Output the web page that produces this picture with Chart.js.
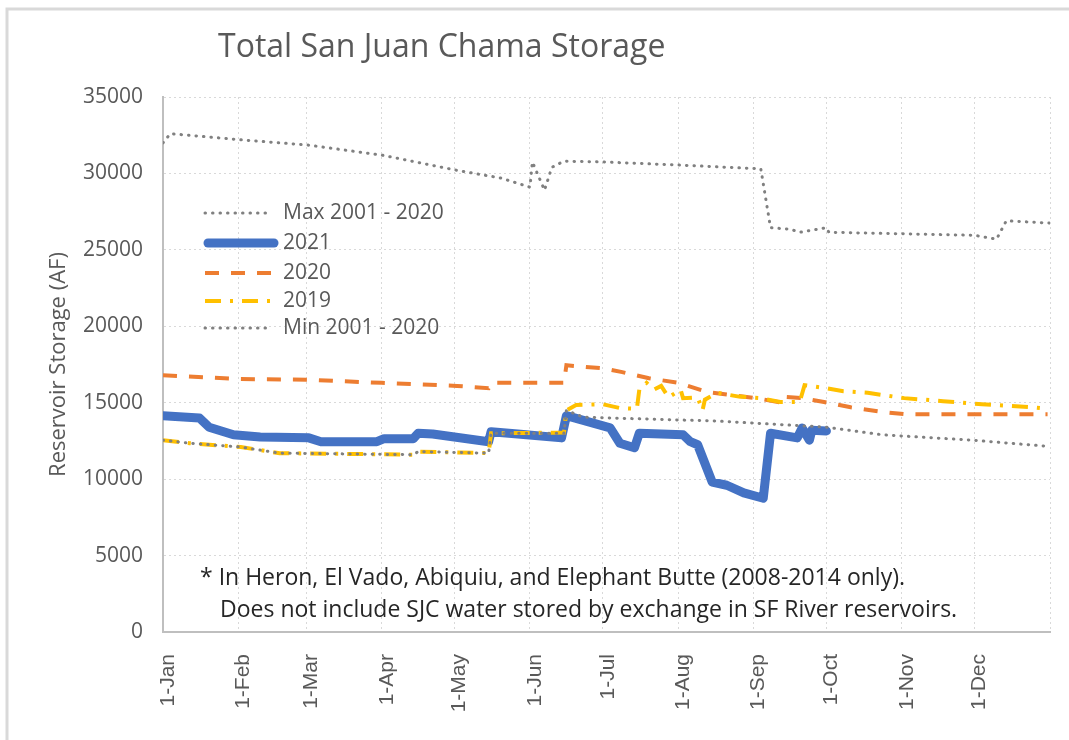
<!DOCTYPE html>
<html>
<head>
<meta charset="utf-8">
<script src="https://cdn.jsdelivr.net/npm/chart.js@4.4.0/dist/chart.umd.min.js"></script>
<style>
  html, body { margin: 0; padding: 0; background: #fff; }
  #wrap { width: 1069px; height: 740px; }
</style>
</head>
<body>
<div id="wrap"><canvas id="chart" width="1069" height="740"></canvas></div>
<script>
// x axis: day of year (0 = 1-Jan)
const monthDays = [0, 31, 59, 90, 120, 151, 181, 212, 243, 273, 304, 334, 365];
const monthLabels = ['1-Jan', '1-Feb', '1-Mar', '1-Apr', '1-May', '1-Jun', '1-Jul', '1-Aug', '1-Sep', '1-Oct', '1-Nov', '1-Dec', ''];
const yTicks = [0, 5000, 10000, 15000, 20000, 25000, 30000, 35000];

// Max 2001 - 2020
const maxDays = [0, 3, 32, 60, 90, 121, 139, 151, 152, 157, 160, 165, 181, 212, 246, 250, 258, 262, 273, 274, 304, 334, 343, 347, 365];
const maxVals = [32000, 32600, 32200, 31850, 31200, 30200, 29700, 29100, 30750, 28900, 30400, 30800, 30750, 30550, 30300, 26450, 26350, 26150, 26450, 26150, 26050, 25950, 25700, 26900, 26750];

// 2021
const y2021Days = [0, 15, 19, 29, 40, 60, 65, 88, 91, 103, 105, 111, 134, 135, 146, 164, 166, 184, 188, 194, 196, 214, 217, 220, 226, 232, 239, 247, 250, 261, 263, 266, 267, 273];
const y2021Vals = [14150, 14000, 13400, 12900, 12750, 12700, 12450, 12450, 12650, 12650, 13000, 12950, 12450, 13100, 12950, 12700, 14150, 13350, 12350, 12050, 13000, 12900, 12450, 12250, 9800, 9600, 9100, 8750, 13000, 12700, 13350, 12550, 13200, 13150];

// 2020
const y2020Days = [0, 32, 60, 90, 121, 134, 135, 165, 166, 181, 189, 200, 212, 224, 244, 253, 254, 263, 272, 283, 296, 305, 364];
const y2020Vals = [16800, 16550, 16500, 16300, 16100, 15950, 16300, 16300, 17450, 17250, 17000, 16600, 16300, 15700, 15300, 15050, 15400, 15300, 15050, 14700, 14400, 14250, 14250];

// 2019
const y2019Days = [0, 11, 32, 48, 103, 105, 134, 135, 165, 166, 170, 181, 188, 195, 196, 199, 202, 205, 208, 213, 214, 220, 222, 223, 228, 237, 246, 254, 262, 264, 273, 280, 290, 305, 321, 337, 358, 364];
const y2019Vals = [12550, 12350, 12100, 11700, 11600, 11800, 11700, 13000, 13050, 14500, 14850, 14900, 14650, 14600, 15850, 16300, 15850, 16100, 15350, 15850, 15300, 15350, 14500, 15200, 15650, 15400, 15300, 15050, 15050, 16150, 15950, 15750, 15650, 15300, 15100, 14900, 14700, 14600];

// Min 2001 - 2020
const minDays = [0, 11, 32, 48, 103, 105, 134, 135, 165, 166, 173, 228, 273, 296, 333, 364];
const minVals = [12550, 12350, 12100, 11700, 11600, 11800, 11700, 13000, 13000, 14500, 14050, 13800, 13400, 12900, 12550, 12150];

const zip = (xs, ys) => xs.map((x, i) => ({ x: x, y: ys[i] }));

const titleText = 'Total San Juan Chama Storage';
const noteLines = [
  '* In Heron, El Vado, Abiquiu, and Elephant Butte (2008-2014 only).',
  'Does not include SJC water stored by exchange in SF River reservoirs.'
];

const datasets = [
  { label: 'Max 2001 - 2020', data: zip(maxDays, maxVals), borderColor: '#808080', borderWidth: 3,
    borderDash: [0.5, 7], borderCapStyle: 'round', order: 1 },
  { label: '2021', data: zip(y2021Days, y2021Vals), borderColor: '#4472c4', borderWidth: 9,
    borderCapStyle: 'round', borderJoinStyle: 'round', order: 5 },
  { label: '2020', data: zip(y2020Days, y2020Vals), borderColor: '#ed7d31', borderWidth: 4,
    borderDash: [14, 12], order: 4 },
  { label: '2019', data: zip(y2019Days, y2019Vals), borderColor: '#ffc000', borderWidth: 4,
    borderDash: [16, 9, 3, 9], order: 3 },
  { label: 'Min 2001 - 2020', data: zip(minDays, minVals), borderColor: '#808080', borderWidth: 3,
    borderDash: [0.5, 7], borderCapStyle: 'round', order: 2 }
];

// title, legend inside the plot, footnote and outer frame
const overlay = {
  id: 'overlay',
  afterDraw(chart) {
    const ctx = chart.ctx;
    ctx.save();
    ctx.strokeStyle = '#d9d9d9';
    ctx.lineWidth = 3;
    ctx.strokeRect(7, 9, 1200, 900);

    ctx.fillStyle = '#595959';
    ctx.textAlign = 'left';
    ctx.textBaseline = 'middle';
    ctx.font = '32px "Open Sans"';
    ctx.fillText(titleText, 218, 48);

    const rows = [213, 243, 273, 301, 328];
    ctx.font = '21px "Open Sans"';
    chart.data.datasets.forEach((ds, i) => {
      const y = rows[i];
      ctx.save();
      ctx.strokeStyle = ds.borderColor;
      ctx.lineWidth = ds.borderWidth;
      ctx.setLineDash(ds.borderDash || []);
      ctx.lineCap = ds.borderCapStyle || 'butt';
      ctx.beginPath();
      if (ds.borderWidth > 5) { ctx.moveTo(208, y); ctx.lineTo(274, y); }
      else { ctx.moveTo(205, y); ctx.lineTo(272, y); }
      ctx.stroke();
      ctx.restore();
      ctx.fillText(ds.label, 283, y);
    });

    ctx.fillStyle = '#262626';
    ctx.font = '23px "Open Sans"';
    ctx.fillText(noteLines[0], 200, 578);
    ctx.fillText(noteLines[1], 220, 610);
    ctx.restore();
  }
};

new Chart(document.getElementById('chart'), {
  type: 'line',
  data: { datasets: datasets },
  plugins: [overlay],
  options: {
    responsive: false,
    animation: false,
    layout: { padding: { left: 0, right: 19, top: 97, bottom: 0 } },
    plugins: { legend: { display: false }, tooltip: { enabled: false } },
    elements: { point: { radius: 0 }, line: { tension: 0 } },
    scales: {
      x: {
        type: 'linear', min: 0, max: 365,
        afterBuildTicks: s => { s.ticks = monthDays.map(v => ({ value: v })); },
        afterFit: s => { s.height = 108; s.paddingLeft = 0; s.paddingRight = 0; },
        ticks: {
          autoSkip: false, minRotation: 90, maxRotation: 90, padding: 22, labelOffset: 5,
          color: '#595959', font: { family: 'Liberation Sans', size: 21 },
          callback: v => monthLabels[monthDays.indexOf(v)]
        },
        grid: { color: '#d9d9d9', lineWidth: 1, drawTicks: false },
        border: { color: '#bfbfbf', width: 2, dash: [2, 3] }
      },
      y: {
        min: 0, max: 35000,
        afterBuildTicks: s => { s.ticks = yTicks.map(v => ({ value: v })); },
        afterFit: s => { s.width = 163; s.paddingTop = 0; s.paddingBottom = 0; },
        ticks: { padding: 20, color: '#595959', font: { family: 'Open Sans', size: 21 },
          callback: v => String(v) },
        grid: { color: '#d9d9d9', lineWidth: 1, drawTicks: false },
        border: { color: '#bfbfbf', width: 2, dash: [2, 3] },
        title: {
          display: true, text: 'Reservoir Storage (AF)', color: '#595959',
          font: { family: 'Open Sans', size: 22 }, padding: { top: 46, bottom: 0 }
        }
      }
    }
  }
});
</script>
</body>
</html>
